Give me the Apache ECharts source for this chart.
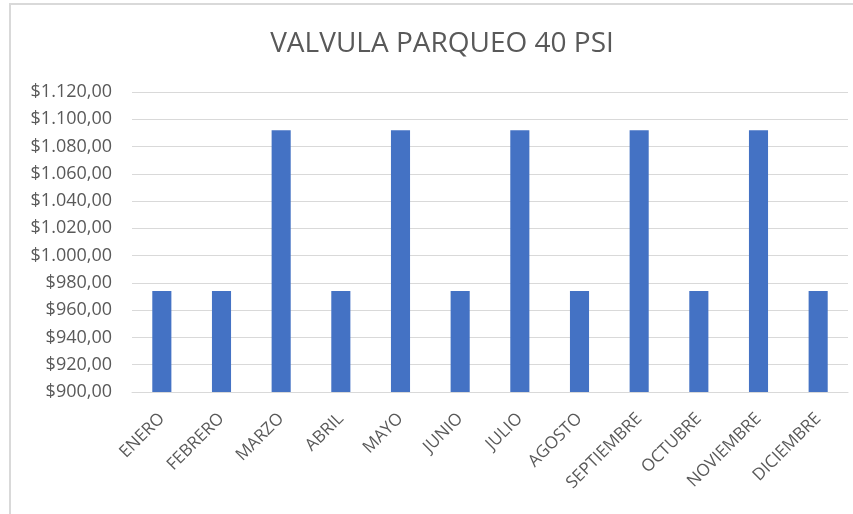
<!DOCTYPE html>
<html>
<head>
<meta charset="utf-8">
<script src="https://cdn.jsdelivr.net/npm/echarts@6/dist/echarts.min.js"></script>
<style>
  html, body { margin: 0; padding: 0; background: #fff; }
  #frame { position: absolute; left: 9px; top: 3px; width: 860px; height: 520px;
           border-left: 2px solid #d9d9d9; border-top: 2px solid #d9d9d9; }
  #main { position: absolute; left: 0; top: 0; width: 853px; height: 514px; }
</style>
</head>
<body>
<div id="frame"></div>
<div id="main"></div>
<script>
  // datos
  var meses = ['ENERO', 'FEBRERO', 'MARZO', 'ABRIL', 'MAYO', 'JUNIO', 'JULIO',
               'AGOSTO', 'SEPTIEMBRE', 'OCTUBRE', 'NOVIEMBRE', 'DICIEMBRE'];
  var valores = [974, 974, 1092, 974, 1092, 974, 1092, 974, 1092, 974, 1092, 974];
  var titulo = 'VALVULA PARQUEO 40 PSI';

  function moneda(v) {
    var s = Math.round(v).toString().replace(/\B(?=(\d{3})+(?!\d))/g, '.');
    return '$' + s + ',00';
  }

  var myChart = echarts.init(document.getElementById('main'));
  myChart.setOption({
    animation: false,
    title: {
      text: titulo,
      left: 437,
      textAlign: 'center',
      top: 25,
      textStyle: { fontFamily: 'Open Sans', fontSize: 28, fontWeight: 'normal', color: '#595959' }
    },
    grid: { left: 132, right: 5, top: 92, bottom: 122 },
    xAxis: {
      type: 'category',
      data: meses,
      axisTick: { show: false },
      axisLine: { lineStyle: { color: '#d9d9d9', width: 1 } },
      axisLabel: { rotate: 45, color: '#595959', fontFamily: 'Open Sans', fontSize: 17, margin: 24, interval: 0 }
    },
    yAxis: {
      type: 'value',
      min: 900,
      max: 1120,
      interval: 20,
      axisLine: { show: false },
      axisTick: { show: false },
      splitLine: { lineStyle: { color: '#d9d9d9' } },
      axisLabel: { color: '#595959', fontFamily: 'Open Sans', fontSize: 18, margin: 20, formatter: moneda }
    },
    series: [{
      type: 'bar',
      data: valores,
      barWidth: '32%',
      itemStyle: { color: '#4472c4' }
    }]
  });
</script>
</body>
</html>
